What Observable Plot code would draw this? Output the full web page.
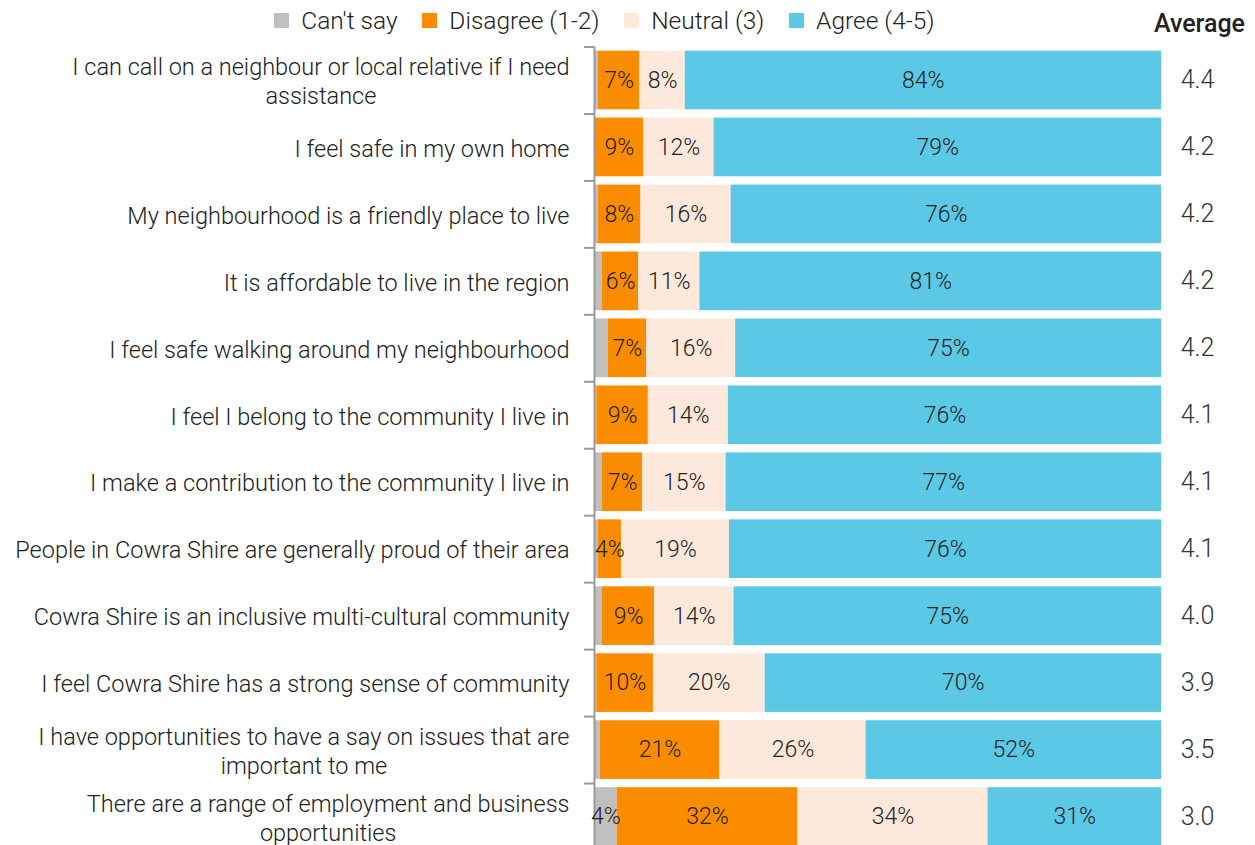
<!DOCTYPE html>
<html><head><meta charset="utf-8">
<script src="https://cdn.jsdelivr.net/npm/d3@7"></script>
<script src="https://cdn.jsdelivr.net/npm/@observablehq/plot@0.6"></script>
<style>
  html, body { margin: 0; background: #fff; overflow: hidden; }
  #header { position: relative; width: 1255px; height: 45px; font-family: Roboto, sans-serif; font-weight: 300; color: #222; }
  #legend { position: absolute; left: 274px; top: 4px; }
  #avg { position: absolute; right: 10px; top: 9px; font-weight: 500; font-size: 25px; }
  #chart svg { display: block; }
</style>
</head><body>
<div id="header"><div id="legend"></div><div id="avg">Average</div></div>
<div id="chart"></div>
<script>
const FONT = "Roboto, sans-serif";
const statements = [
  "I can call on a neighbour or local relative if I need\nassistance",
  "I feel safe in my own home",
  "My neighbourhood is a friendly place to live",
  "It is affordable to live in the region",
  "I feel safe walking around my neighbourhood",
  "I feel I belong to the community I live in",
  "I make a contribution to the community I live in",
  "People in Cowra Shire are generally proud of their area",
  "Cowra Shire is an inclusive multi-cultural community",
  "I feel Cowra Shire has a strong sense of community",
  "I have opportunities to have a say on issues that are\nimportant to me",
  "There are a range of employment and business\nopportunities"
];
const responses = ["Can't say", "Disagree (1-2)", "Neutral (3)", "Agree (4-5)"];
const colors = ["#bfbfbf", "#fb8c00", "#fde9db", "#5bc8e6"];
const cantSay  = [0.7, 0.1, 0.6, 1.4, 2.4, 0.4, 1.4, 0.6, 1.4, 0.4, 1.0, 4.0];
const disagree = [7.3, 8.6, 7.6, 6.4, 6.8, 9.1, 7.1, 4.2, 9.2, 10.0, 21.1, 31.9];
const neutral  = [8.0, 12.4, 15.9, 10.8, 15.7, 14.1, 14.7, 19.0, 14.0, 19.7, 25.8, 33.5];
const agree    = [84.0, 78.9, 75.9, 81.4, 75.1, 76.4, 76.8, 76.2, 75.4, 69.9, 52.1, 30.6];
const averages = [4.4, 4.2, 4.2, 4.2, 4.2, 4.1, 4.1, 4.1, 4.0, 3.9, 3.5, 3.0];

const series = [cantSay, disagree, neutral, agree];
const rows = statements.flatMap((s, i) => responses.map((r, j) => ({statement: s, response: r, value: series[j][i]})));

const W = 1255, H = 805, mt = 1.5, pad = 0.124, pO = 0.062;
const step = (H - mt) / (statements.length - pad + 2 * pO);

const legend = Plot.legend({
  color: {domain: responses, range: colors},
  legend: "swatches",
  swatchSize: 15,
  style: {fontFamily: FONT, fontSize: "24.5px", fontWeight: 300, color: "#222"}
});
document.getElementById("legend").append(legend);

const chart = Plot.plot({
  width: W, height: H,
  marginLeft: 594, marginRight: 94, marginTop: mt, marginBottom: 0,
  style: {fontFamily: FONT, fontSize: "23px", fontWeight: 300, color: "#222", background: "#fff"},
  x: {domain: [0, 100], axis: null},
  y: {domain: statements, axis: null, paddingInner: pad, paddingOuter: pO, round: false},
  color: {domain: responses, range: colors},
  marks: [
    Plot.barX(rows, {x: "value", y: "statement", fill: "response", order: responses}),
    Plot.ruleX([0], {stroke: "#999", strokeWidth: 2}),
    Plot.ruleY(statements, {y: d => d, x1: 0, x2: 0, insetLeft: -10, dy: -step / 2, stroke: "#999", strokeWidth: 2}),
    Plot.text(rows, Plot.stackX({
      x: "value", y: "statement", z: "response", order: responses,
      text: d => d.value >= 3 ? Math.round(d.value) + "%" : "",
      fill: "#222", fontSize: 23
    })),
    Plot.text(statements, {y: d => d, text: d => d, frameAnchor: "left", textAnchor: "end", dx: -25, fontSize: 23.5, lineHeight: 1.23, fill: "#222"}),
    Plot.text(averages, {y: (d, i) => statements[i], text: d => d.toFixed(1), frameAnchor: "right", textAnchor: "middle", dx: 36, fontSize: 25, fill: "#333"})
  ]
});
document.getElementById("chart").append(chart);

// centre the lines of wrapped labels within their block (block stays right-aligned)
chart.querySelectorAll("text").forEach(t => {
  const spans = t.querySelectorAll("tspan");
  if (spans.length > 1) {
    const w = t.getBBox().width;
    t.setAttribute("text-anchor", "middle");
    t.style.textAnchor = "middle";
    spans.forEach(s => s.setAttribute("x", -w / 2));
  }
});
</script>
</body></html>
